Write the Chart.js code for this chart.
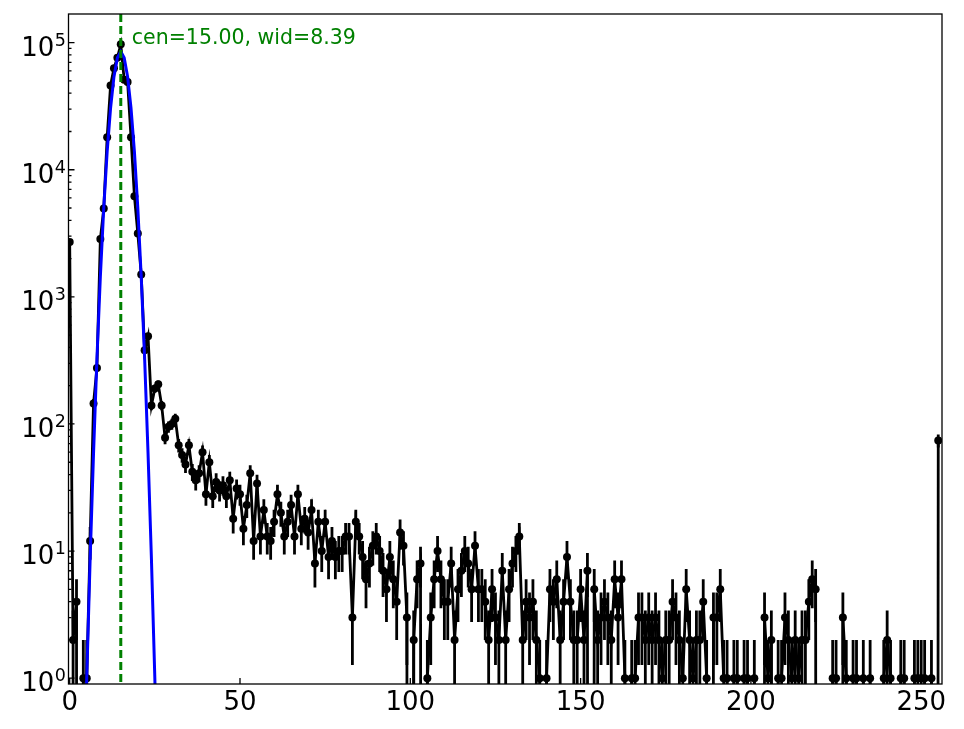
<!DOCTYPE html>
<html>
<head>
<meta charset="utf-8">
<title>Peak fit</title>
<script src="https://cdn.jsdelivr.net/npm/chart.js@4.4.1/dist/chart.umd.min.js"></script>
<style>
  html, body { margin: 0; padding: 0; background: #fff; }
  #wrap { width: 964px; height: 729px; }
</style>
</head>
<body>
<div id="wrap"><canvas id="peakChart"></canvas></div>
<script>
// counts per channel, channel = array index (0..255)
const counts = [
  2700, 2, 4, 0, 1, 1, 12, 145, 275, 2850,
  4950, 18000, 46000, 63000, 76000, 97000, 51000, 49000, 18000, 6200,
  3150, 1500, 380, 490, 140, 190, 205, 140, 78, 95,
  100, 110, 68, 57, 48, 68, 42, 36, 41, 60,
  28, 50, 27, 35, 30, 33, 27, 36, 18, 31,
  28, 15, 23, 41, 12, 34, 13, 21, 13, 12,
  17, 28, 20, 13, 17, 23, 13, 28, 15, 18,
  14, 21, 8, 17, 10, 17, 9, 12, 9, 10,
  10, 13, 13, 3, 17, 13, 9, 6, 8, 11,
  13, 10, 7, 5, 9, 6, 4, 14, 11, 3,
  0, 2, 6, 8, 0, 1, 3, 6, 10, 6,
  4, 4, 8, 2, 5, 7, 10, 8, 5, 11,
  5, 5, 4, 2, 5, 3, 2, 7, 2, 5,
  8, 10, 13, 2, 4, 3, 4, 2, 1, 0,
  1, 5, 4, 6, 2, 4, 9, 4, 2, 2,
  5, 2, 7, 0, 5, 2, 3, 4, 3, 2,
  6, 3, 6, 1, 0, 1, 1, 3, 3, 2,
  3, 2, 3, 2, 1, 2, 2, 4, 3, 2,
  1, 5, 2, 1, 2, 2, 4, 1, 0, 3,
  3, 5, 1, 1, 0, 1, 1, 0, 1, 1,
  0, 1, 0, 0, 3, 1, 2, 0, 1, 1,
  3, 2, 1, 2, 1, 2, 2, 4, 6, 5,
  0, 0, 0, 0, 1, 1, 0, 3, 1, 0,
  1, 1, 0, 1, 0, 1, 0, 0, 0, 1,
  2, 1, 0, 0, 1, 1, 0, 0, 1, 1,
  1, 1, 0, 1, 0, 74
];

// gaussian fit curve
const fitX = [4, 5, 6, 7, 8, 9, 10, 11, 12, 13, 14, 15, 16, 17, 18, 19, 20, 21, 22, 23, 24, 25, 26];
const fitY = [0.09, 0.99, 8.6, 59, 328, 1440, 5000, 13900, 30600, 54000, 75900, 85000,
              75900, 54000, 30600, 13900, 5000, 1440, 328, 59, 8.6, 0.99, 0.09];

const fitCentre = 15.00;
const fitWidth = 8.39;

const xTicks = [0, 50, 100, 150, 200, 250];
const yTicks = [1, 10, 100, 1000, 10000, 100000];

const marks = {
  id: 'marks',
  beforeDatasetsDraw(chart) {
    // sqrt(N) error bars, under the line and markers
    const { ctx, chartArea: a, scales: { x, y } } = chart;
    ctx.save();
    ctx.beginPath();
    ctx.rect(a.left, a.top, a.right - a.left, a.bottom - a.top);
    ctx.clip();
    ctx.strokeStyle = '#000';
    ctx.lineWidth = 2.8;
    counts.forEach((n, i) => {
      if (n <= 0) return;
      const err = Math.sqrt(n);
      const px = x.getPixelForValue(i);
      const top = y.getPixelForValue(n + err);
      const bot = n - err > 0 ? y.getPixelForValue(n - err) : a.bottom + 10;
      ctx.beginPath();
      ctx.moveTo(px, top);
      ctx.lineTo(px, bot);
      ctx.stroke();
    });
    ctx.restore();
  },
  afterDatasetsDraw(chart) {
    const { ctx, chartArea: a, scales: { x } } = chart;
    const px = x.getPixelForValue(fitCentre);
    ctx.save();
    ctx.strokeStyle = '#008000';
    ctx.lineWidth = 3;
    ctx.setLineDash([8, 4]);
    ctx.beginPath();
    ctx.moveTo(px, a.top);
    ctx.lineTo(px, a.bottom);
    ctx.stroke();
    ctx.restore();
  },
  afterDraw(chart) {
    const { ctx, chartArea: a, scales: { x, y } } = chart;
    ctx.save();
    // frame
    ctx.strokeStyle = '#000';
    ctx.lineWidth = 1.3;
    ctx.strokeRect(a.left, a.top, a.right - a.left, a.bottom - a.top);

    // inward ticks
    ctx.beginPath();
    xTicks.forEach(v => {
      const px = x.getPixelForValue(v);
      ctx.moveTo(px, a.bottom);
      ctx.lineTo(px, a.bottom - 6);
    });
    yTicks.forEach(v => {
      const py = y.getPixelForValue(v);
      ctx.moveTo(a.left, py);
      ctx.lineTo(a.left + 6, py);
      for (let m = 2; m <= 9; m++) {
        const mv = v * m;
        if (mv > y.max) break;
        const pm = y.getPixelForValue(mv);
        ctx.moveTo(a.left, pm);
        ctx.lineTo(a.left + 3, pm);
      }
    });
    ctx.stroke();

    // y labels as 10^n
    ctx.fillStyle = '#000';
    ctx.textAlign = 'right';
    ctx.textBaseline = 'alphabetic';
    yTicks.forEach(v => {
      const py = y.getPixelForValue(v);
      const exp = String(Math.round(Math.log10(v)));
      ctx.font = '17.5px "DejaVu Sans"';
      const ew = ctx.measureText(exp).width;
      ctx.fillText(exp, 66, py + 3);
      ctx.font = '26px "DejaVu Sans"';
      ctx.fillText('10', 66 - ew - 0.5, py + 13);
    });

    // fit annotation
    ctx.fillStyle = '#008000';
    ctx.textAlign = 'left';
    ctx.font = '20.5px "DejaVu Sans"';
    ctx.fillText('cen=' + fitCentre.toFixed(2) + ', wid=' + fitWidth.toFixed(2),
      x.getPixelForValue(fitCentre) + 11, a.top + 30);
    ctx.restore();
  }
};

const ctx = document.getElementById('peakChart').getContext('2d');

new Chart(ctx, {
  type: 'line',
  data: {
    datasets: [
      {
        label: 'fit',
        data: fitX.map((v, i) => ({ x: v, y: fitY[i] })),
        borderColor: '#0000ff',
        borderWidth: 3,
        pointRadius: 0,
        tension: 0,
      },
      {
        label: 'counts',
        // empty channels go far below the axis, like matplotlib's log clipping
        data: counts.map((n, i) => ({ x: i, y: n > 0 ? n : 1e-30 })),
        borderColor: '#000',
        borderWidth: 2.8,
        pointRadius: (c) => (counts[c.dataIndex] > 0 ? 4 : 0),
        pointBackgroundColor: '#000',
        pointBorderWidth: 0,
        tension: 0,
      },
    ],
  },
  options: {
    animation: false,
    responsive: true,
    maintainAspectRatio: false,
    layout: { padding: { top: 14, right: 22, left: 0, bottom: 0 } },
    plugins: {
      legend: { display: false },
      tooltip: { enabled: false },
    },
    scales: {
      x: {
        type: 'linear',
        min: -0.35,
        max: 256.1,
        grid: { display: false, drawTicks: false },
        border: { display: false },
        afterBuildTicks: (s) => { s.ticks = xTicks.map(v => ({ value: v })); },
        afterFit: (s) => { s.height = 45; },
        ticks: {
          color: '#000',
          font: { family: 'DejaVu Sans', size: 26 },
          padding: 4,
          maxRotation: 0,
          autoSkip: false,
        },
      },
      y: {
        type: 'logarithmic',
        min: 0.9,
        max: 1.68e5,
        grid: { display: false, drawTicks: false },
        border: { display: false },
        afterBuildTicks: (s) => { s.ticks = yTicks.map(v => ({ value: v })); },
        afterFit: (s) => { s.width = 68.5; },
        ticks: { display: false },
      },
    },
  },
  plugins: [marks],
});
</script>
</body>
</html>
